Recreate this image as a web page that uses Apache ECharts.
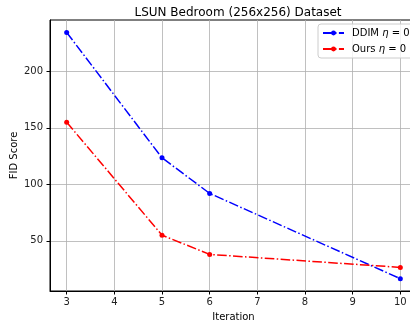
<!DOCTYPE html>
<html><head><meta charset="utf-8">
<script src="https://cdn.jsdelivr.net/npm/echarts@6/dist/echarts.min.js"></script>
<style>html,body{margin:0;padding:0;background:#fff}#c{width:410px;height:323px}</style>
</head><body><div id="c"></div>
<script>
const iterations = [3, 5, 6, 10];
const ddimFID = [234.5, 123.5, 92, 16.5];
const oursFID = [155, 55, 38, 26.5];
const xTicks = [3, 4, 5, 6, 7, 8, 9, 10];
const yTicks = [50, 100, 150, 200];
const seriesNames = ['DDIM', 'Ours'];
const titleText = 'LSUN Bedroom (256x256) Dataset';

const font = 'DejaVu Sans';
const dashDot = [9.6, 2.4, 1.5, 2.4];
function mkSeries(name, vals, color) {
  return {
    name: name, type: 'line',
    data: iterations.map((x, i) => [x, vals[i]]),
    symbol: 'circle', symbolSize: 5,
    itemStyle: { color: color },
    lineStyle: { color: color, width: 1.5, type: dashDot },
    emphasis: { disabled: true }, animation: false
  };
}
const chart = echarts.init(document.getElementById('c'), null, { renderer: 'canvas' });
chart.setOption({
  backgroundColor: '#fff',
  animation: false,
  title: {
    text: titleText, left: 233, top: 2, textAlign: 'center',
    textStyle: { fontFamily: font, fontSize: 12, fontWeight: 'normal', color: '#000' }
  },
  grid: { left: 50, top: 20, width: 367, height: 271, outerBoundsMode: 'none', containLabel: false,
    show: true, borderColor: '#000', borderWidth: 1, backgroundColor: 'transparent' },
  legend: {
    orient: 'vertical', left: 318, top: 24,
    padding: [3, 4, 3, 4], itemWidth: 21, itemHeight: 6, itemGap: 4,
    backgroundColor: 'rgba(255,255,255,0.8)', borderColor: '#ccc', borderWidth: 1, borderRadius: 3,
    data: seriesNames,
    formatter: n => n + ' {i|η} = 0',
    textStyle: { fontFamily: font, fontSize: 10, color: '#000', lineHeight: 12, padding: [0, 0, 0, 3],
      rich: { i: { fontFamily: font, fontSize: 10, fontStyle: 'italic', color: '#000' } } }
  },
  xAxis: {
    type: 'value', min: 2.65, max: 10.35, splitNumber: 8,
    name: 'Iteration', nameLocation: 'middle', nameGap: 21, nameMoveOverlap: false,
    nameTextStyle: { fontFamily: font, fontSize: 10, color: '#000' },
    axisLine: { show: true, onZero: false, lineStyle: { color: '#000', width: 1 } },
    axisTick: { show: true, length: 3.5, customValues: xTicks, lineStyle: { color: '#000' } },
    axisLabel: { customValues: xTicks, fontFamily: font, fontSize: 10, color: '#222', margin: 6 },
    splitLine: { show: true, lineStyle: { color: '#b0b0b0', width: 0.8 } }
  },
  yAxis: {
    type: 'value', min: 5.6, max: 245.5, splitNumber: 5,
    name: 'FID Score', nameLocation: 'middle', nameGap: 31, nameMoveOverlap: false,
    nameTextStyle: { fontFamily: font, fontSize: 10, color: '#000' },
    axisLine: { show: true, onZero: false, lineStyle: { color: '#000', width: 1 } },
    axisTick: { show: true, length: 3.5, customValues: yTicks, lineStyle: { color: '#000' } },
    axisLabel: { customValues: yTicks, fontFamily: font, fontSize: 10, color: '#222', margin: 7 },
    splitLine: { show: true, lineStyle: { color: '#b0b0b0', width: 0.8 } }
  },
  series: [mkSeries(seriesNames[0], ddimFID, '#0000ff'), mkSeries(seriesNames[1], oursFID, '#ff0000')]
});
</script></body></html>
